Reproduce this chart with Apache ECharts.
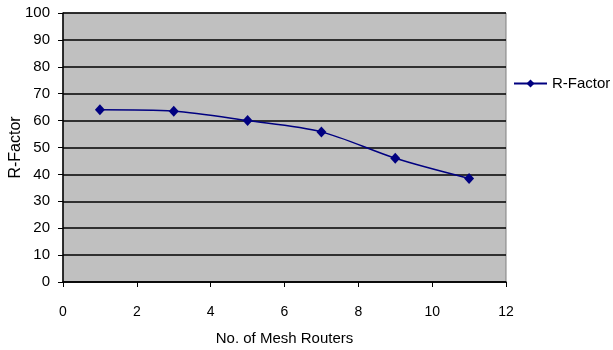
<!DOCTYPE html>
<html>
<head>
<meta charset="utf-8">
<script src="https://cdn.jsdelivr.net/npm/echarts@6/dist/echarts.min.js"></script>
<style>
  html, body { margin: 0; padding: 0; background: #fff; }
  #chart { width: 613px; height: 350px; }
</style>
</head>
<body>
<div id="chart"></div>
<script>
// Number of mesh routers vs. R-Factor
const routers = [1, 3, 5, 7, 9, 11];
const rFactor = [64.0, 63.5, 60.0, 55.8, 46.0, 38.5];
const xTicks = [0, 2, 4, 6, 8, 10, 12];
const yTicks = [0, 10, 20, 30, 40, 50, 60, 70, 80, 90, 100];

const font = 'Liberation Sans, Arial, sans-serif';
const chart = echarts.init(document.getElementById('chart'));

chart.setOption({
  animation: false,
  grid: {
    left: 63, right: 107, top: 13, bottom: 68,
    containLabel: false, outerBoundsMode: 'none',
    show: true, backgroundColor: '#c0c0c0',
    borderColor: '#808080', borderWidth: 1
  },
  legend: {
    left: 513, top: 76, padding: 0,
    itemWidth: 33, itemHeight: 10, itemGap: 6,
    textStyle: { fontFamily: font, fontSize: 15, color: '#000' },
    data: ['R-Factor']
  },
  xAxis: {
    type: 'value',
    min: xTicks[0], max: xTicks[xTicks.length - 1], interval: 2,
    name: 'No. of Mesh Routers', nameLocation: 'middle', nameGap: 49,
    nameMoveOverlap: false,
    nameTextStyle: { fontFamily: font, fontSize: 15, color: '#000' },
    axisLine: { show: true, onZero: false, lineStyle: { color: '#000', width: 1.5 } },
    axisTick: { show: true, length: 5, inside: false, lineStyle: { color: '#000' } },
    axisLabel: { fontFamily: font, fontSize: 14, color: '#000', margin: 23 },
    splitLine: { show: false }
  },
  yAxis: {
    type: 'value',
    min: yTicks[0], max: yTicks[yTicks.length - 1], interval: 10,
    name: 'R-Factor', nameLocation: 'middle', nameGap: 39,
    nameMoveOverlap: false,
    nameTextStyle: { fontFamily: font, fontSize: 16, color: '#000' },
    axisLine: { show: true, lineStyle: { color: '#000', width: 1.5 } },
    axisTick: { show: true, length: 5, lineStyle: { color: '#000' } },
    axisLabel: { fontFamily: font, fontSize: 15, color: '#000', margin: 13 },
    splitLine: { show: true, lineStyle: { color: '#000', width: 1.5 } }
  },
  series: [{
    name: 'R-Factor',
    type: 'line',
    smooth: 0.3,
    data: routers.map((x, i) => [x, rFactor[i]]),
    symbol: 'diamond',
    symbolSize: [10, 11],
    lineStyle: { color: '#000080', width: 1.5 },
    itemStyle: { color: '#000080' }
  }]
});
</script>
</body>
</html>
